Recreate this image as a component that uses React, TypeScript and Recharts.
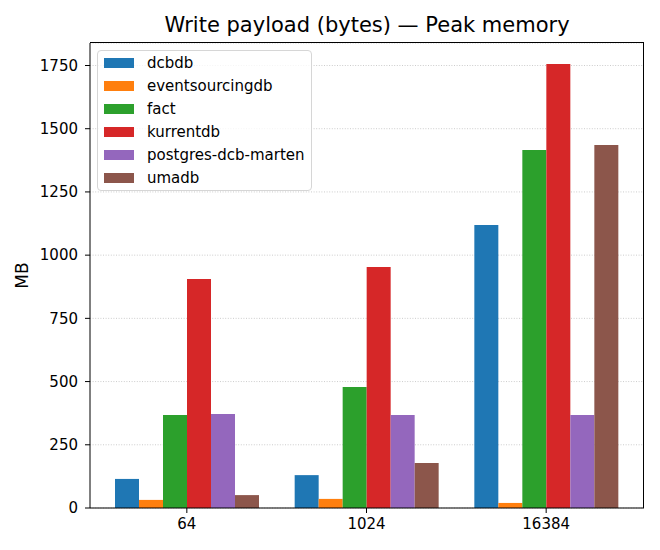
import { Bar, BarChart, CartesianGrid, Legend, XAxis, YAxis } from "recharts";

const payloads = ["64", "1024", "16384"];

const dcbdb = [115, 130, 1119];
const eventsourcingdb = [32, 36, 20];
const fact = [368, 479, 1416];
const kurrentdb = [906, 953, 1756];
const postgresDcbMarten = [372, 368, 368];
const umadb = [51, 178, 1436];

const yTicks = [0, 250, 500, 750, 1000, 1250, 1500, 1750];

const SERIES = [
  { key: "dcbdb", values: dcbdb, color: "#1f77b4" },
  { key: "eventsourcingdb", values: eventsourcingdb, color: "#ff7f0e" },
  { key: "fact", values: fact, color: "#2ca02c" },
  { key: "kurrentdb", values: kurrentdb, color: "#d62728" },
  { key: "postgres-dcb-marten", values: postgresDcbMarten, color: "#9467bd" },
  { key: "umadb", values: umadb, color: "#8c564b" },
];

const FONT = "'DejaVu Sans', sans-serif";
const TICK = { fontSize: 15, fill: "#000", fontFamily: FONT };

const data = payloads.map((p, i) => {
  const row: Record<string, string | number> = { payload: p };
  SERIES.forEach((s) => {
    row[s.key] = s.values[i];
  });
  return row;
});

function LegendBox() {
  return (
    <div
      style={{
        boxSizing: "border-box",
        border: "1px solid #d6d6d6",
        borderRadius: 4,
        background: "rgba(255,255,255,0.8)",
        padding: "0 6px 1px 6px",
        fontFamily: FONT,
        fontSize: 15,
        color: "#000",
        width: 215,
      }}
    >
      {SERIES.map((s) => (
        <div key={s.key} style={{ display: "flex", alignItems: "center", height: 23, whiteSpace: "nowrap" }}>
          <span
            style={{ display: "inline-block", width: 30, height: 10, background: s.color, marginRight: 13 }}
          />
          <span>{s.key}</span>
        </div>
      ))}
    </div>
  );
}

export default function App() {
  return (
    <div style={{ position: "absolute", left: 0, top: 0, width: 660, height: 550, background: "#fff" }}>
      <div
        style={{
          position: "absolute",
          left: 90,
          top: 12.5,
          width: 554,
          textAlign: "center",
          fontFamily: FONT,
          fontSize: 21,
          lineHeight: "25px",
          color: "#000",
          whiteSpace: "nowrap",
        }}
      >
        Write payload (bytes) — Peak memory
      </div>
      <BarChart
        width={660}
        height={550}
        data={data}
        margin={{ top: 43, right: 16, left: 0, bottom: 12 }}
        barCategoryGap={18}
        barGap={0}
      >
        <CartesianGrid vertical={false} stroke="#cccccc" strokeDasharray="1 1.6" />
        <XAxis
          dataKey="payload"
          height={30}
          padding={{ left: 7, right: 8 }}
          tick={TICK}
          tickSize={5}
          tickMargin={5}
          axisLine={{ stroke: "#000" }}
          tickLine={{ stroke: "#000" }}
        />
        <YAxis
          width={90}
          domain={[0, 1839]}
          ticks={yTicks}
          interval={0}
          tick={TICK}
          tickSize={5}
          tickMargin={7}
          axisLine={{ stroke: "#000" }}
          tickLine={{ stroke: "#000" }}
          label={{
            content: ({ viewBox }: any) => {
              const cx = (viewBox?.x ?? 0) + 21.5;
              const cy = (viewBox?.y ?? 0) + (viewBox?.height ?? 0) / 2;
              return (
                <text
                  x={cx}
                  y={cy}
                  textAnchor="middle"
                  dominantBaseline="central"
                  transform={`rotate(-90, ${cx}, ${cy})`}
                  style={{ fontFamily: FONT, fontSize: 17, fill: "#000" }}
                >
                  MB
                </text>
              );
            },
          }}
        />
        <Legend
          layout="vertical"
          align="center"
          verticalAlign="middle"
          wrapperStyle={{ left: 97, top: 50, width: "auto" }}
          content={() => <LegendBox />}
        />
        {SERIES.map((s) => (
          <Bar key={s.key} dataKey={s.key} fill={s.color} isAnimationActive={false} />
        ))}
      </BarChart>
      {/* top and right spines of the plot frame */}
      <div
        style={{
          position: "absolute",
          left: 90,
          top: 42,
          width: 554,
          height: 466,
          boxSizing: "border-box",
          borderTop: "1px solid #000",
          borderRight: "1px solid #000",
          pointerEvents: "none",
        }}
      />
    </div>
  );
}
